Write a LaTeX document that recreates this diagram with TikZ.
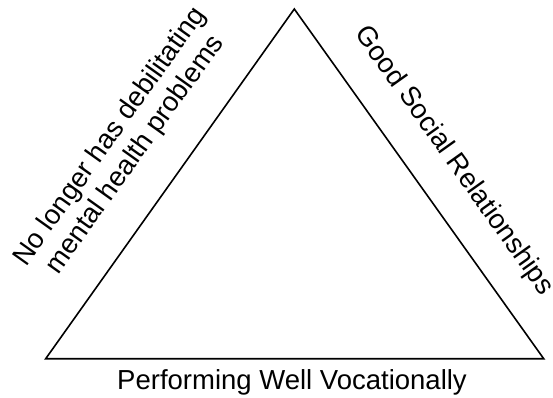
\documentclass[tikz,border=0pt]{standalone}
\usepackage{fontspec}
\setmainfont{Liberation Sans}
\begin{document}
\begin{tikzpicture}[x=1pt,y=-1pt,
  edge/.style={line width=1.6pt, line join=miter},
  lab/.style={font=\fontsize{27.5}{31}\selectfont, inner sep=0pt, align=center}]
\useasboundingbox (0,0) rectangle (553,398);
\coordinate (T) at (294.3,9);
\coordinate (L) at (45.7,358.7);
\coordinate (R) at (543.7,358.7);
\draw[edge] (T) -- (L) -- (R) -- cycle;
\node[lab, rotate=54.5] (left) at (123,146) {No longer has debilitating\\mental health problems};
\node[lab, rotate=-54.5] (right) at (454,161) {Good Social Relationships};
\node[lab] (bottom) at (292,382) {Performing Well Vocationally};
\end{tikzpicture}
\end{document}
